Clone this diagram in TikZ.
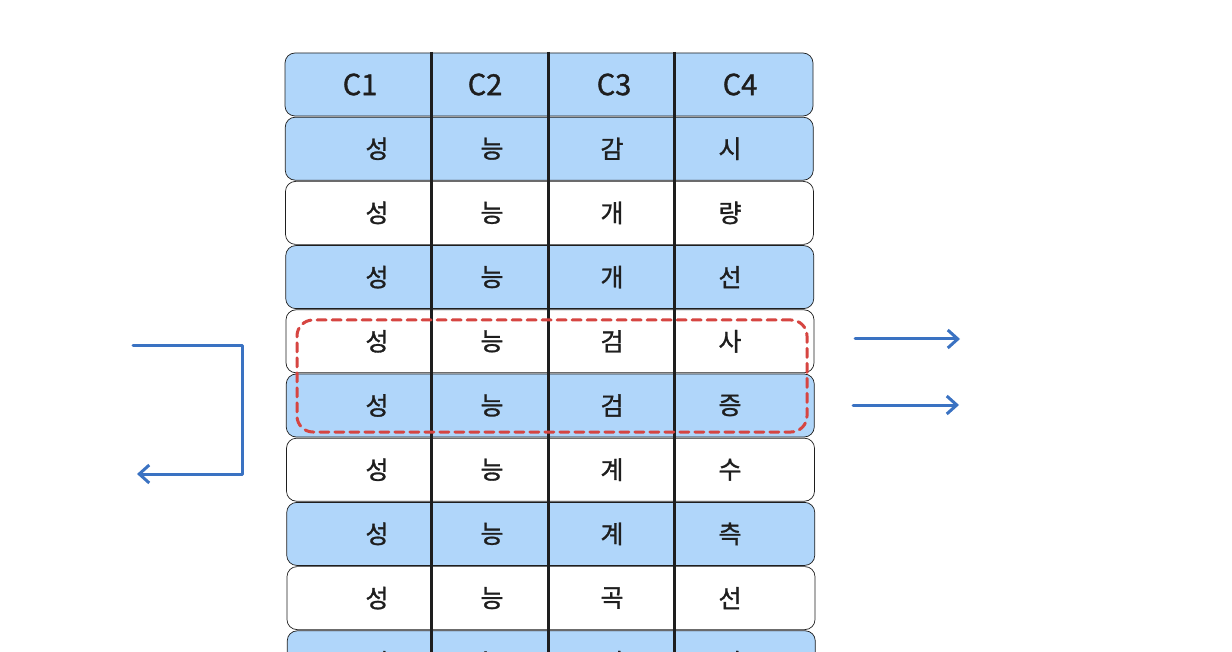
\documentclass[tikz,border=0pt]{standalone}
\usepackage{fontspec}
\setmainfont{Noto Sans CJK KR}
\newfontfamily\cellfont[FakeBold=1.2]{Noto Sans CJK KR}
\usepackage{xcolor}
\usetikzlibrary{positioning}
\usetikzlibrary{arrows.meta}

\definecolor{rowblue}{HTML}{B0D6FA}
\definecolor{inkdark}{HTML}{1E1E1E}
\definecolor{markred}{HTML}{D64541}
\definecolor{flowblue}{HTML}{3A72C2}

\begin{document}
\begin{tikzpicture}[x=1pt, y=-1pt,
    rowbox/.style={draw=inkdark, line width=0.7pt, rounded corners=10pt,
      minimum width=528pt, minimum height=63pt, inner sep=0pt},
    celltext/.style={font=\cellfont\fontsize{25}{28}\selectfont, text=inkdark, inner sep=0pt},
    headtext/.style={font=\cellfont\fontsize{29}{32}\selectfont, text=inkdark, inner sep=0pt},
    flow/.style={draw=flowblue, line width=3pt, line cap=round, line join=round,
      -{Straight Barb[length=10pt, width=18pt, line width=3pt]}}]
            \def \pitch {64.2}
            \def \top {84.5}

            \useasboundingbox (0,0) rectangle (1232,652);
            \clip (0,0) rectangle (1232,652);

            % rows of the table
            \foreach \i/\fillc in {0/rowblue, 1/rowblue, 2/white, 3/rowblue, 4/white,
                5/rowblue, 6/white, 7/rowblue, 8/white, 9/rowblue}
              \node[rowbox, fill=\fillc] (row\i) at ({549 + 0.25*\i}, {\top + \i*\pitch}) {};

            % column separators
            \foreach \x [count=\k] in {431, 548, 674} {
              \coordinate (sep\k-a) at (\x, 52);
              \coordinate (sep\k-b) at (\x, 700);
              \draw[inkdark, line width=3pt] (sep\k-a) -- (sep\k-b);
            }

            % header
            \foreach \txt/\x [count=\k] in {C1/360, C2/485, C3/614, C4/740}
              \node[headtext] (head\k) at (\x, \top) {\txt};

            % entries
            \foreach \a/\b [count=\i] in {감/시, 개/량, 개/선, 검/사, 검/증,
                계/수, 계/측, 곡/선, 기/기} {
              \node[celltext] (cell\i-1) at (377, {\top + \i*\pitch}) {성};
              \node[celltext] (cell\i-2) at (492, {\top + \i*\pitch}) {능};
              \node[celltext] (cell\i-3) at (612, {\top + \i*\pitch}) {\a};
              \node[celltext] (cell\i-4) at (730, {\top + \i*\pitch}) {\b};
            }

            % marked pair of rows
            \node[draw=markred, line width=3pt, dash pattern=on 9pt off 6pt,
              line cap=round, rounded corners=16pt, minimum width=510pt,
              minimum height=112pt] (pick) at (552, 376) {};

            % loop on the left
            \coordinate (loopin) at (133, 346);
            \coordinate (loopout) at (137, 474);
            \draw[flow] (loopin) -- ++(109,0) |- (loopout);

            % outgoing arrows
            \coordinate (outa-s) at (855, 339);
            \coordinate (outa-e) at (960, 339);
            \coordinate (outb-s) at (853, 405);
            \coordinate (outb-e) at (959, 405);
            \draw[flow] (outa-s) -- (outa-e);
            \draw[flow] (outb-s) -- (outb-e);
          \end{tikzpicture}
\end{document}
